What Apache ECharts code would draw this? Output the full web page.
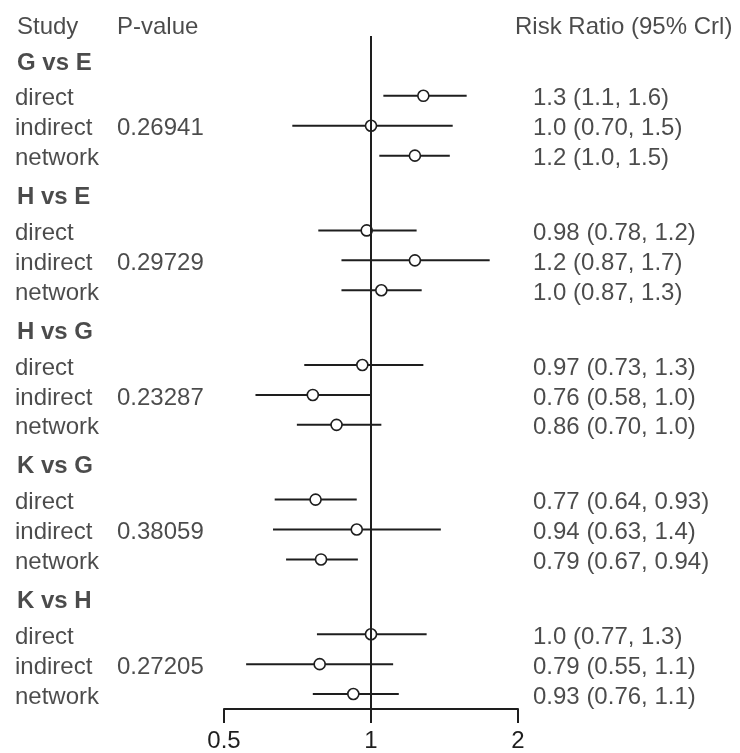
<!DOCTYPE html>
<html>
<head>
<meta charset="utf-8">
<script src="https://cdn.jsdelivr.net/npm/echarts@6/dist/echarts.min.js"></script>
<style>
  html, body { margin: 0; padding: 0; background: #fff; }
  #chart { width: 740px; height: 753px; }
</style>
</head>
<body>
<div id="chart"></div>
<script>
// comparisons and their inconsistency p-values
const groups = ["G vs E", "H vs E", "H vs G", "K vs G", "K vs H"];
const pValues = ["0.26941", "0.29729", "0.23287", "0.38059", "0.27205"];
const methods = ["direct", "indirect", "network"];

// risk ratio estimates, one per (group, method)
const estimate = [1.28, 1.0, 1.23, 0.98, 1.23, 1.05, 0.96, 0.76, 0.85, 0.77, 0.935, 0.79, 1.0, 0.785, 0.92];
const lower = [1.06, 0.69, 1.04, 0.78, 0.87, 0.87, 0.73, 0.58, 0.705, 0.635, 0.63, 0.67, 0.775, 0.555, 0.76];
const upper = [1.57, 1.47, 1.45, 1.24, 1.75, 1.27, 1.28, 1.0, 1.05, 0.935, 1.39, 0.94, 1.3, 1.11, 1.14];
const ciText = [
  "1.3 (1.1, 1.6)", "1.0 (0.70, 1.5)", "1.2 (1.0, 1.5)",
  "0.98 (0.78, 1.2)", "1.2 (0.87, 1.7)", "1.0 (0.87, 1.3)",
  "0.97 (0.73, 1.3)", "0.76 (0.58, 1.0)", "0.86 (0.70, 1.0)",
  "0.77 (0.64, 0.93)", "0.94 (0.63, 1.4)", "0.79 (0.67, 0.94)",
  "1.0 (0.77, 1.3)", "0.79 (0.55, 1.1)", "0.93 (0.76, 1.1)"
];
const xTicks = [0.5, 1, 2];

// row layout (in row units on the hidden y axis)
const groupStep = 4.5;
const firstRow = 1.1;
const rowY = (g, i) => g * groupStep + firstRow + i;

// column x positions (pixels, on the full-width text axis)
const colStudy = 15;
const colP = 117;
const colCI = 533;

const FONT = "'Liberation Sans', Arial, sans-serif";
const INK = "#1e1e1e";

const ciData = [];
const pointData = [];
const textData = [];

textData.push({ value: [17, -1.3], text: "Study" });
textData.push({ value: [colP, -1.3], text: "P-value" });
textData.push({ value: [515, -1.3], text: "Risk Ratio (95% Crl)" });

groups.forEach((g, gi) => {
  textData.push({ value: [17, gi * groupStep - 0.1], text: g, label: { fontWeight: "bold" } });
  methods.forEach((m, mi) => {
    const k = gi * 3 + mi;
    const y = rowY(gi, mi);
    ciData.push([lower[k], upper[k], y]);
    pointData.push([estimate[k], y]);
    textData.push({ value: [colStudy, y], text: m });
    textData.push({ value: [colCI, y], text: ciText[k] });
    if (m === "indirect") textData.push({ value: [colP, y], text: pValues[gi] });
  });
});

const yMin = -0.9;
const yMax = 21.6;

const chart = echarts.init(document.getElementById("chart"));
chart.setOption({
  animation: false,
  backgroundColor: "#fff",
  grid: [
    { left: 224, width: 294, top: 36, height: 673 },
    { left: 0, right: 0, top: 36, height: 673 }
  ],
  xAxis: [
    {
      type: "log",
      logBase: 2,
      min: 0.5,
      max: 2,
      gridIndex: 0,
      position: "bottom",
      axisLine: { show: true, onZero: false, lineStyle: { color: INK, width: 2 } },
      axisTick: { show: true, length: 14, lineStyle: { color: INK, width: 2 } },
      axisLabel: {
        color: INK,
        fontSize: 24,
        fontFamily: FONT,
        margin: 20,
        formatter: (v) => (xTicks.some((t) => Math.abs(t - v) < 1e-6) ? String(v) : "")
      },
      splitLine: { show: false }
    },
    { type: "value", min: 0, max: 740, gridIndex: 1, show: false }
  ],
  yAxis: [
    { type: "value", inverse: true, min: yMin, max: yMax, gridIndex: 0, show: false, axisLine: { onZero: false } },
    { type: "value", inverse: true, min: yMin, max: yMax, gridIndex: 1, show: false }
  ],
  series: [
    {
      type: "custom",
      xAxisIndex: 0,
      yAxisIndex: 0,
      data: ciData,
      encode: { x: [0, 1], y: 2 },
      renderItem: (params, api) => {
        const a = api.coord([api.value(0), api.value(2)]);
        const b = api.coord([api.value(1), api.value(2)]);
        return {
          type: "line",
          shape: { x1: a[0], y1: a[1], x2: b[0], y2: b[1] },
          style: { stroke: INK, lineWidth: 2 }
        };
      },
      markLine: {
        silent: true,
        symbol: "none",
        label: { show: false },
        lineStyle: { color: INK, width: 2, type: "solid" },
        data: [{ xAxis: 1 }]
      },
      z: 2
    },
    {
      type: "scatter",
      xAxisIndex: 0,
      yAxisIndex: 0,
      data: pointData,
      symbol: "circle",
      symbolSize: 11,
      itemStyle: { color: "#fff", borderColor: INK, borderWidth: 1.6, opacity: 1 },
      z: 3
    },
    {
      type: "scatter",
      xAxisIndex: 1,
      yAxisIndex: 1,
      data: textData,
      symbolSize: 0,
      clip: false,
      silent: true,
      label: {
        show: true,
        position: "right",
        distance: 0,
        align: "left",
        verticalAlign: "middle",
        color: INK,
        fontSize: 24,
        fontFamily: FONT,
        offset: [0, 3],
        formatter: (p) => p.data.text
      },
      z: 4
    }
  ]
});
</script>
</body>
</html>
